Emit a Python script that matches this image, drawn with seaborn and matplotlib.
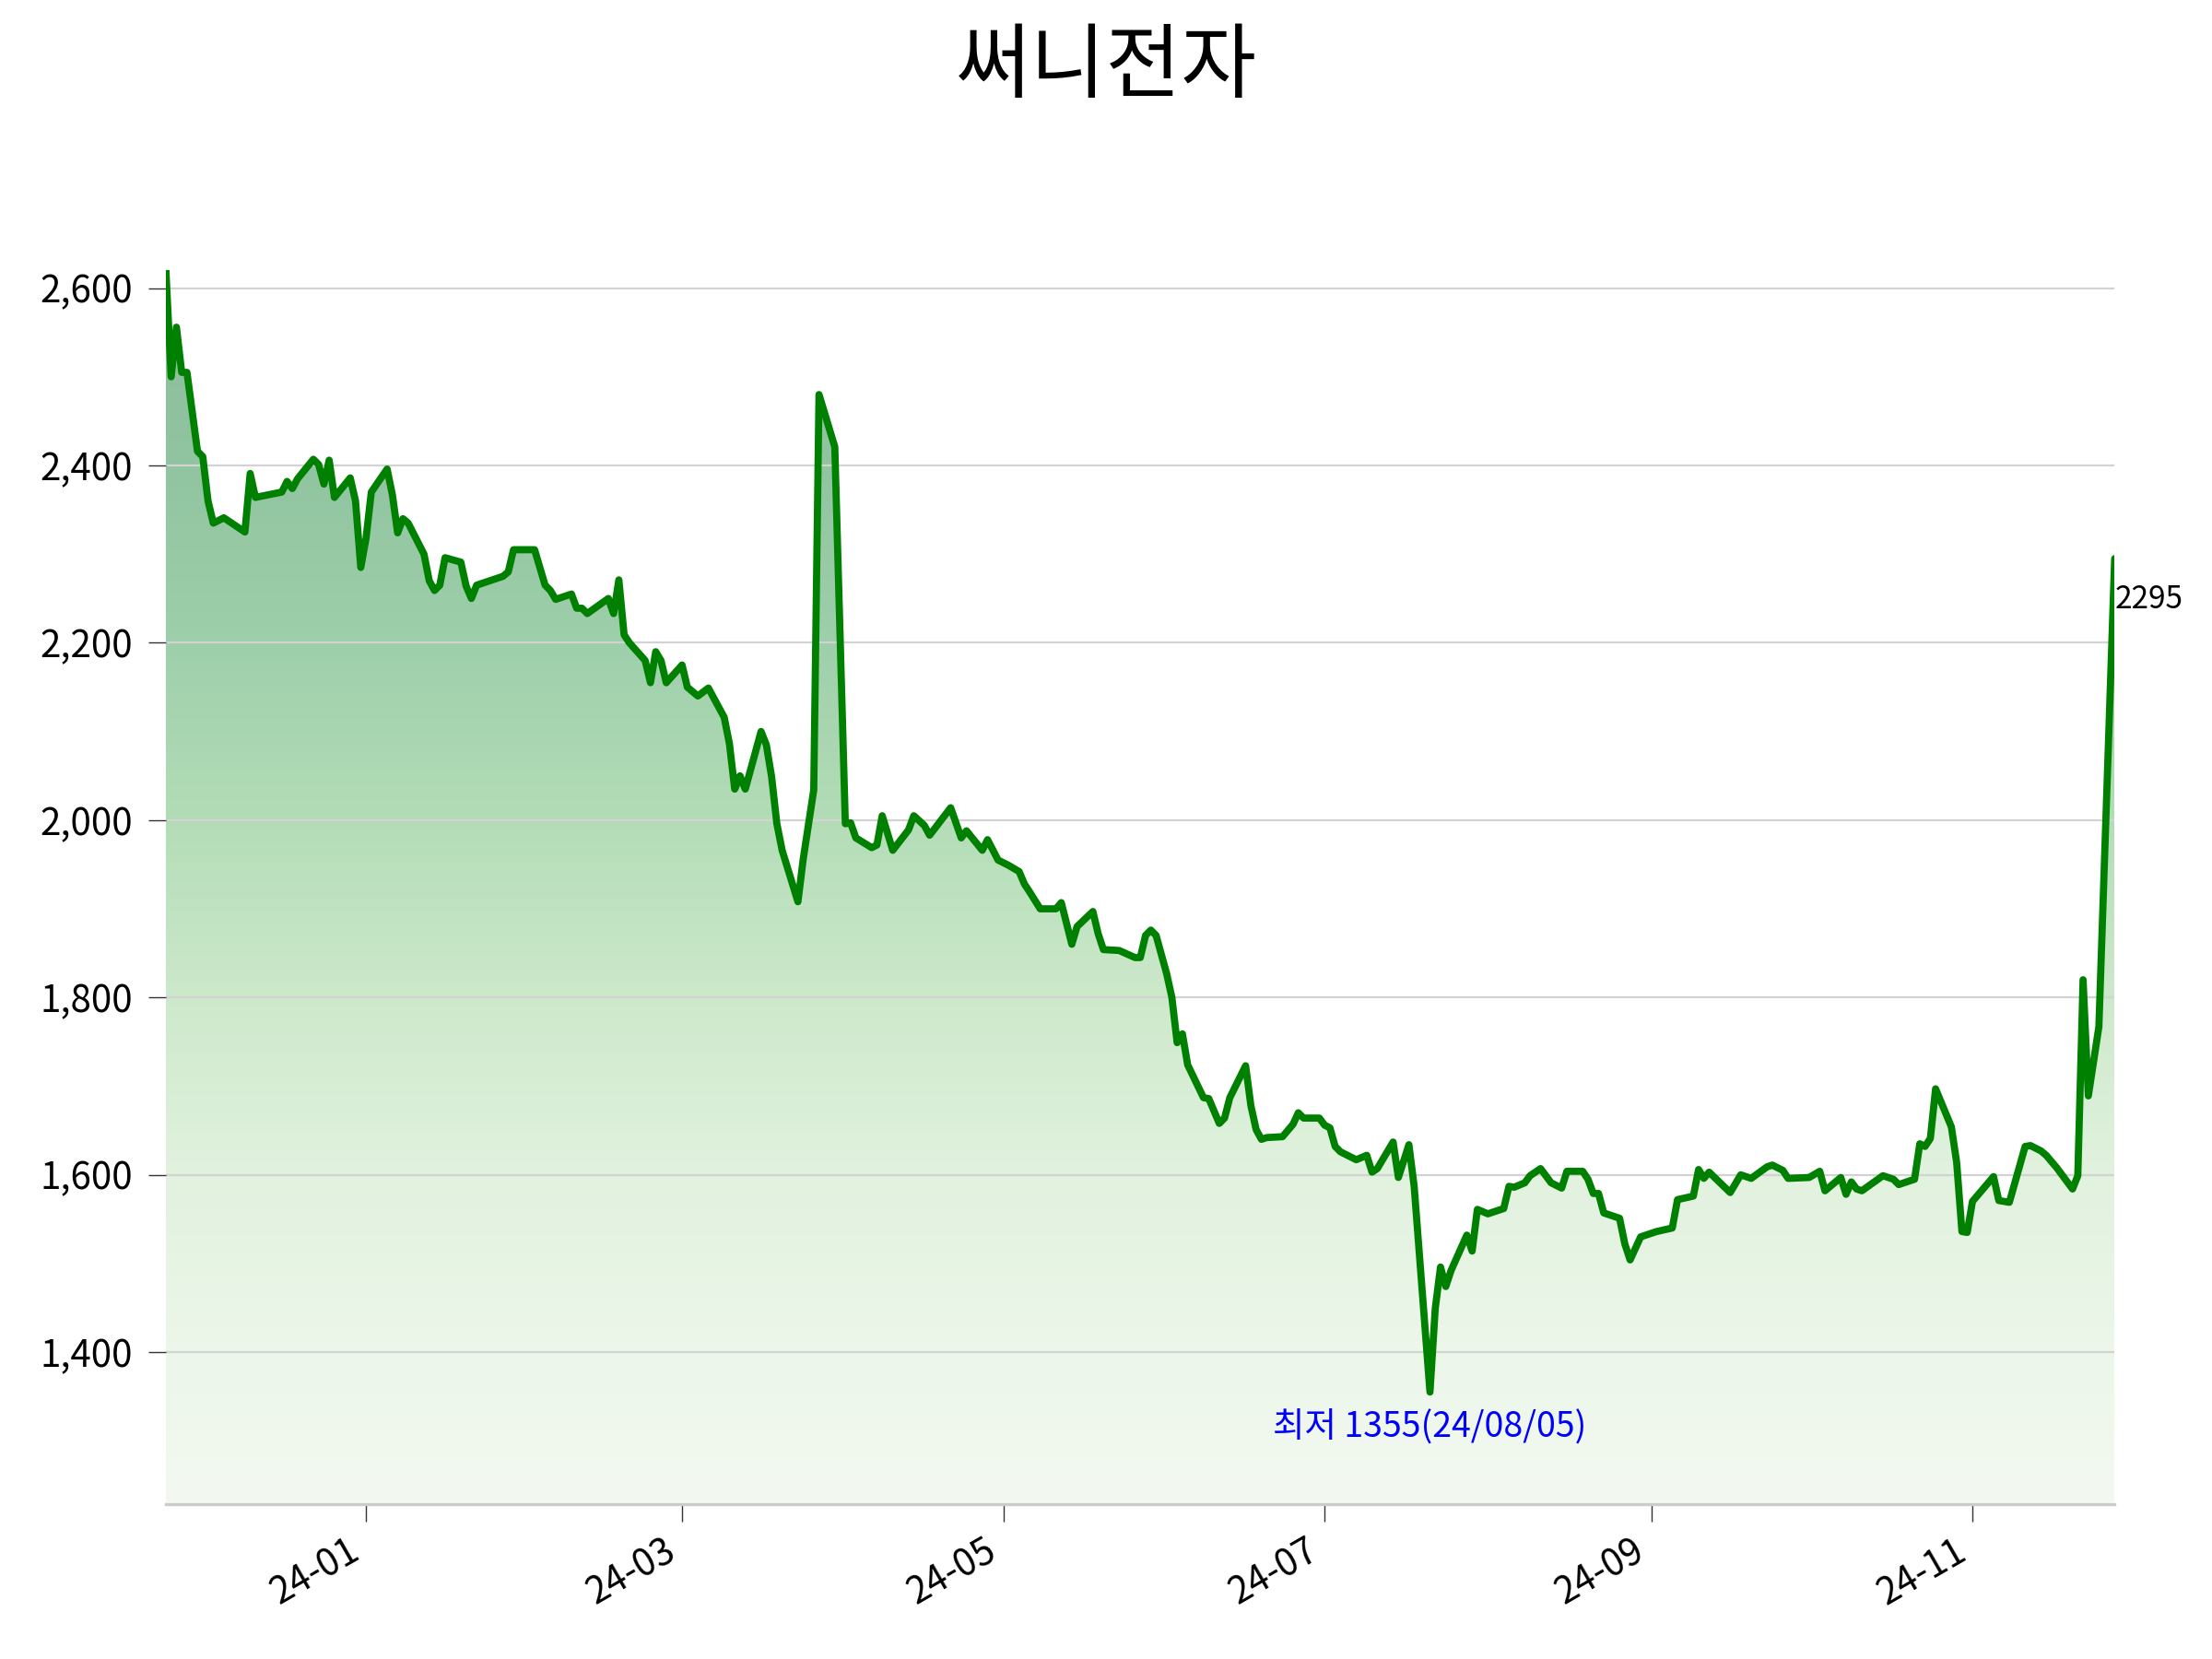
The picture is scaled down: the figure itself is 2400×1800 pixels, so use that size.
import numpy as np
import pandas as pd
import seaborn as sns
import matplotlib.pyplot as plt
import matplotlib.dates as mdates
from matplotlib.colors import LinearSegmentedColormap
from matplotlib.ticker import FuncFormatter

title = "써니전자"
low_label = "최저 1355(24/08/05)"

# days counted from 2024-01-01
base_date = "2024-01-01"
day_index = [-38, -37, -36, -35, -34, -32, -31, -30, -29, -27, -23, -22, -21, -16, -15,
             -14, -13, -10, -9, -8, -7, -6, -3, -2, -1, 0, 1, 4, 5, 6,
             7, 8, 11, 12, 13, 14, 15, 18, 19, 20, 21, 26, 27, 28, 32,
             34, 35, 36, 39, 40, 41, 42, 46, 47, 48, 49, 50, 53, 54, 55,
             56, 57, 60, 61, 63, 65, 68, 69, 70, 71, 72, 75, 76, 77, 78,
             79, 82, 83, 85, 86, 89, 91, 92, 93, 96, 97, 98, 100, 103, 104,
             106, 107, 111, 113, 114, 117, 118, 120, 122, 124, 125, 126, 128, 131, 132,
             134, 135, 138, 139, 140, 143, 146, 147, 148, 149, 150, 152, 153, 154, 155,
             156, 159, 160, 162, 163, 164, 167, 168, 169, 170, 171, 174, 176, 177, 178,
             181, 182, 183, 184, 185, 188, 190, 191, 192, 195, 196, 198, 199, 202, 203,
             204, 205, 206, 209, 210, 211, 213, 216, 217, 218, 220, 221, 223, 225, 227,
             228, 231, 232, 233, 234, 235, 238, 239, 240, 242, 245, 248, 249, 252, 253,
             254, 255, 259, 261, 263, 266, 267, 269, 270, 274, 276, 277, 280, 281, 282,
             283, 284, 288, 290, 291, 294, 295, 296, 297, 298, 301, 302, 303, 304, 305,
             309, 310, 312, 315, 316, 318, 319, 321, 324, 325, 326, 327, 329, 332]

close = [2620, 2500, 2556, 2505, 2505, 2416, 2410, 2360, 2335, 2341, 2325, 2391, 2364, 2370, 2382,
         2374, 2385, 2407, 2401, 2379, 2406, 2364, 2386, 2360, 2285, 2318, 2370, 2396, 2367, 2324,
         2340, 2335, 2300, 2270, 2259, 2265, 2296, 2291, 2264, 2250, 2265, 2275, 2280, 2305, 2305,
         2265, 2259, 2249, 2255, 2239, 2239, 2233, 2250, 2233, 2271, 2209, 2200, 2180, 2155, 2190,
         2180, 2155, 2175, 2150, 2140, 2149, 2116, 2086, 2035, 2050, 2035, 2100, 2085, 2049, 1996,
         1966, 1908, 1956, 2034, 2480, 2421, 1996, 1997, 1980, 1969, 1972, 2005, 1966, 1989, 2005,
         1994, 1983, 2014, 1980, 1988, 1966, 1978, 1955, 1949, 1942, 1928, 1919, 1900, 1900, 1907,
         1860, 1880, 1897, 1872, 1854, 1853, 1845, 1845, 1870, 1876, 1870, 1827, 1800, 1749, 1759,
         1724, 1687, 1686, 1658, 1664, 1687, 1723, 1678, 1651, 1640, 1642, 1643, 1657, 1670, 1664,
         1664, 1656, 1653, 1632, 1626, 1617, 1622, 1603, 1607, 1637, 1597, 1634, 1587, 1355, 1449,
         1496, 1474, 1492, 1532, 1514, 1561, 1556, 1562, 1587, 1586, 1591, 1599, 1607, 1591, 1585,
         1604, 1604, 1595, 1579, 1579, 1557, 1551, 1522, 1504, 1530, 1536, 1540, 1572, 1576, 1606,
         1596, 1603, 1580, 1600, 1596, 1609, 1611, 1605, 1596, 1597, 1604, 1582, 1597, 1578, 1592,
         1584, 1582, 1599, 1595, 1589, 1595, 1635, 1632, 1641, 1697, 1654, 1614, 1536, 1535, 1570,
         1598, 1571, 1569, 1632, 1633, 1627, 1622, 1608, 1584, 1599, 1820, 1689, 1767, 2295]

y_ticks = [1400, 1600, 1800, 2000, 2200, 2400, 2600]

# gradient under the line, bottom -> top
fill_stops = [0.0, 0.13, 0.27, 0.41, 0.56, 0.70, 0.84, 1.0]
fill_colors = ["#f3f9f1", "#ecf6e9", "#e1f2de", "#cde9cb", "#b2dcb6", "#9ecfab", "#91c4a0", "#8dbd9c"]

sns.set_style("white")
plt.rcParams['font.family'] = ['Noto Sans CJK KR', 'DejaVu Sans']
plt.rcParams['text.color'] = 'black'
plt.rcParams['xtick.color'] = 'black'
plt.rcParams['ytick.color'] = 'black'

df = pd.DataFrame({"date": pd.Timestamp(base_date) + pd.to_timedelta(day_index, unit="D"),
                   "close": close})

fig = plt.figure(figsize=(12, 9), dpi=200)
ax = fig.add_axes([0.075, 0.0933, 0.881, 0.7437])

lo, hi = df["close"].min(), df["close"].max()
ymin, ymax = lo - (hi - lo) * 0.1, hi

sns.lineplot(data=df, x="date", y="close", color="green", linewidth=2.8, ax=ax, zorder=3)

x0 = mdates.date2num(df["date"].iloc[0])
x1 = mdates.date2num(df["date"].iloc[-1])
cmap = LinearSegmentedColormap.from_list("fade", list(zip(fill_stops, fill_colors)))
grad = np.linspace(0, 1, 256).reshape(-1, 1)
im = ax.imshow(grad, cmap=cmap, origin="lower", aspect="auto",
               extent=[x0, x1, ymin, ymax], zorder=0)
clip = ax.fill_between(df["date"], df["close"], ymin, facecolor="none", edgecolor="none")
im.set_clip_path(clip.get_paths()[0], transform=ax.transData)

ax.set_xlim(df["date"].iloc[0], df["date"].iloc[-1])
ax.set_ylim(ymin, ymax)

ax.set_yticks(y_ticks)
ax.yaxis.set_major_formatter(FuncFormatter(lambda v, p: f"{v:,.0f}"))
ax.xaxis.set_major_locator(mdates.MonthLocator(bymonth=[1, 3, 5, 7, 9, 11]))
ax.xaxis.set_major_formatter(mdates.DateFormatter("%y-%m"))
for lbl in ax.get_xticklabels():
    lbl.set_rotation(30)
    lbl.set_ha("right")

ax.yaxis.grid(True, color="#d3d3d3", linewidth=0.8)
ax.xaxis.grid(False)
ax.set_axisbelow("line")
for s in ["left", "top", "right"]:
    ax.spines[s].set_visible(False)
ax.spines["bottom"].set_color("#cccccc")
ax.spines["bottom"].set_linewidth(1.2)

ax.tick_params(axis="y", length=7, width=0.5, color="#333333", labelsize=14.5, pad=6, left=True)
ax.tick_params(axis="x", length=7, width=0.5, color="#333333", labelsize=14.5, pad=4, bottom=True)
ax.set_xlabel("")
ax.set_ylabel("")

# lowest point and last value
imin = df["close"].idxmin()
ax.text(df["date"].iloc[imin], lo * 0.97, low_label, color="blue",
        ha="center", va="center", fontsize=13.5)
ax.text(df["date"].iloc[-1], df["close"].iloc[-1] * 0.98, str(df["close"].iloc[-1]),
        ha="left", va="center", fontsize=12)

fig.suptitle(title, fontsize=32, y=0.959, va="center")

fig.savefig("out.png", dpi=200)
